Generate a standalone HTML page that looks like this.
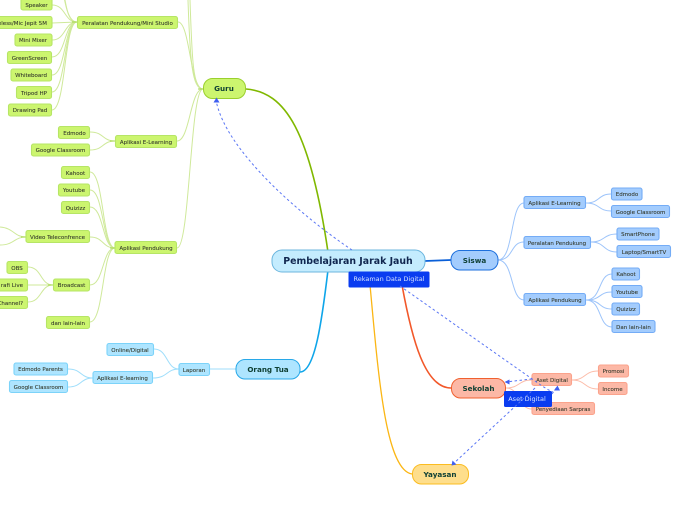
<!DOCTYPE html>
<html><head><meta charset="utf-8">
<style>
html,body{margin:0;padding:0;background:#fff}
body{width:696px;height:520px;overflow:hidden;position:relative}
svg{position:absolute;left:0;top:0}
text{font-family:"DejaVu Sans",sans-serif}
.s{font-size:5.5px;fill:#33382a;stroke:#33382a;stroke-width:.08;text-anchor:middle}
.g rect{fill:#ccf56f;stroke:#b6e566;stroke-width:1.1}
.b rect{fill:#a3ccfd;stroke:#74acf6;stroke-width:1.1}
.c rect{fill:#aee5ff;stroke:#7cd3f9;stroke-width:1.1}
.r rect{fill:#fcb8a6;stroke:#fba38c;stroke-width:1.1}
.m{font-size:7.2px;font-weight:bold;fill:#0f4034;text-anchor:middle}
</style></head><body>
<svg width="696" height="520" viewBox="0 0 696 520" fill="none">
<!-- main connectors -->
<path d="M246 89C285 92 310 130 328 252" stroke="#80b800" stroke-width="1.6"/>
<path d="M328 270C322 320 315 372 300 372" stroke="#0ea5e9" stroke-width="1.6"/>
<path d="M425 261L451 260" stroke="#0a5fd8" stroke-width="1.8"/>
<path d="M402 285C412 340 425 388 451 388" stroke="#f2582a" stroke-width="1.6"/>
<path d="M370 285C378 370 385 470 412 474" stroke="#fbb614" stroke-width="1.3"/>
<!-- green connectors -->
<g stroke="#cfe99a" stroke-width="1">
<path d="M203 89C192 89 190 60 188 0"/>
<path d="M203 89C193 89 192 60 190 0"/>
<path d="M203 89C190 89 190 22 178 22"/>
<path d="M203 89C190 89 190 141 177 141"/>
<path d="M203 89C190 89 190 248 177 248"/>
<path d="M77 22C66 22 66 0 62 -15"/>
<path d="M77 22C66 22 64 -5 60 -25"/>
<path d="M77 22C64 22 66 5 52 5"/>
<path d="M77 22L52 23"/>
<path d="M77 22C64 22 66 40 52 40"/>
<path d="M77 22C64 22 66 57 52 57"/>
<path d="M77 22C64 22 66 75 52 75"/>
<path d="M77 22C64 22 66 92 52 92"/>
<path d="M77 22C64 22 66 110 52 110"/>
<path d="M115 141C102 141 104 132 90 132"/>
<path d="M115 141C102 141 104 150 90 150"/>
<path d="M115 248C102 248 104 172 90 172"/>
<path d="M115 248C102 248 104 190 90 190"/>
<path d="M115 248C102 248 104 207 90 207"/>
<path d="M115 248C102 248 104 237 90 237"/>
<path d="M115 248C102 248 104 285 90 285"/>
<path d="M115 248C102 248 104 322 90 322"/>
<path d="M53 285C40 285 42 267 28 267"/>
<path d="M53 285L28 285"/>
<path d="M53 285C40 285 42 302 28 302"/>
<path d="M26 237C14 237 14 228 0 227"/>
<path d="M26 237C14 237 14 245 0 245"/>
</g>
<path d="M198 89H203M72 22H77M110 141H115M110 248H115M48 285H53M21 237H26" stroke="#a6d84f" stroke-width="1"/>
<!-- light blue connectors -->
<g stroke="#9fdefb" stroke-width="1">
<path d="M236 369H210"/>
<path d="M179 369C166 369 168 349 154 349"/>
<path d="M179 369C166 369 168 378 153 378"/>
<path d="M93 378C80 378 82 369 68 369"/>
<path d="M93 378C80 378 82 387 68 387"/>
</g>
<!-- blue connectors -->
<g stroke="#9dc4fa" stroke-width="1">
<path d="M498 260C514 260 510 203 524 203"/>
<path d="M498 260C514 260 510 242 524 242"/>
<path d="M498 260C514 260 510 300 524 300"/>
<path d="M586 203C600 203 598 194 611 194"/>
<path d="M586 203C600 203 598 211 611 211"/>
<path d="M591 242C605 242 603 234 617 234"/>
<path d="M591 242C605 242 603 252 617 252"/>
<path d="M586 300C602 300 598 274 612 274"/>
<path d="M586 300C602 300 598 292 612 292"/>
<path d="M586 300C602 300 598 309 612 309"/>
<path d="M586 300C602 300 598 327 612 327"/>
</g>
<!-- red connectors -->
<g stroke="#fcbca9" stroke-width="1">
<path d="M506 388C520 388 518 380 532 380"/>
<path d="M506 388C520 388 518 409 532 409"/>
<path d="M572 380C586 380 584 371 598 371"/>
<path d="M572 380C586 380 584 389 598 389"/>
</g>
<!-- centre & main nodes -->
<rect x="272" y="250" width="153" height="22" rx="10" fill="#c4ecfe" stroke="#6cb6de" stroke-width="1"/>
<text x="348" y="264" font-size="9.400" font-weight="bold" fill="#10264f" text-anchor="middle">Pembelajaran Jarak Jauh</text>
<rect x="348.500" y="271.500" width="81" height="16" rx="1.500" fill="#0a3cf0"/>
<text x="389" y="281" font-size="6.500" fill="#d6e2ff" text-anchor="middle">Rekaman Data Digital</text>
<rect x="203.500" y="78.500" width="42" height="20" rx="9" fill="#ccf56f" stroke="#9ad02d" stroke-width="1"/>
<text class="m" x="224" y="91">Guru</text>
<rect x="236" y="359.500" width="64" height="19.500" rx="9" fill="#aee5ff" stroke="#28a8e8" stroke-width="1"/>
<text class="m" x="268" y="372">Orang Tua</text>
<rect x="451" y="250.500" width="47" height="19.500" rx="9" fill="#a3ccfd" stroke="#1d6fdc" stroke-width="1"/>
<text class="m" x="474.500" y="263">Siswa</text>
<rect x="451.500" y="378.500" width="54" height="19.500" rx="9" fill="#fcb8a6" stroke="#f0602f" stroke-width="1"/>
<text class="m" x="478.500" y="391">Sekolah</text>
<rect x="412.500" y="464.500" width="56" height="19.500" rx="9" fill="#fede8c" stroke="#fbbc20" stroke-width="1"/>
<text class="m" x="440" y="477">Yayasan</text>
<!-- green nodes -->
<g class="g">
<rect x="21" y="-2" width="31" height="12" rx="2"/><text class="s" x="36.500" y="7">Speaker</text>
<rect x="-10" y="16.500" width="62" height="12" rx="2"/><text class="s" x="47" y="25" style="text-anchor:end">Wireless/Mic Jepit 5M</text>
<rect x="15" y="34" width="37" height="12" rx="2"/><text class="s" x="33" y="42">Mini Mixer</text>
<rect x="7.500" y="51.500" width="44" height="12" rx="2"/><text class="s" x="29.500" y="60">GreenScreen</text>
<rect x="11" y="69" width="40.500" height="12" rx="2"/><text class="s" x="31" y="77">Whiteboard</text>
<rect x="16.500" y="86.500" width="35" height="12" rx="2"/><text class="s" x="34" y="95">Tripod HP</text>
<rect x="8.500" y="104" width="43" height="12" rx="2"/><text class="s" x="30" y="112">Drawing Pad</text>
<rect x="77.500" y="16.500" width="100" height="12" rx="2"/><text class="s" x="127.500" y="25">Peralatan Pendukung/Mini Studio</text>
<rect x="58.500" y="126.500" width="31" height="12" rx="2"/><text class="s" x="74.500" y="135">Edmodo</text>
<rect x="31.500" y="144" width="58" height="12" rx="2"/><text class="s" x="60.500" y="152">Google Classroom</text>
<rect x="115.500" y="135.500" width="61" height="12" rx="2"/><text class="s" x="146" y="144">Aplikasi E-Learning</text>
<rect x="61.500" y="166.500" width="28" height="12" rx="2"/><text class="s" x="75.500" y="175">Kahoot</text>
<rect x="58.500" y="184" width="31" height="12" rx="2"/><text class="s" x="74" y="192">Youtube</text>
<rect x="61.500" y="201.500" width="28" height="12" rx="2"/><text class="s" x="75.500" y="210">Quizizz</text>
<rect x="26" y="230.500" width="63.500" height="12" rx="2"/><text class="s" x="57.500" y="239">Video Teleconfrence</text>
<rect x="115" y="241.500" width="61.500" height="12" rx="2"/><text class="s" x="146" y="250">Aplikasi Pendukung</text>
<rect x="7" y="261.500" width="20.500" height="12" rx="2"/><text class="s" x="17" y="270">OBS</text>
<rect x="-10" y="279" width="37.500" height="12" rx="2"/><text class="s" x="23" y="287" style="text-anchor:end">rafi Live</text>
<rect x="-10" y="296.500" width="37.500" height="12" rx="2"/><text class="s" x="23" y="305" style="text-anchor:end">Channel?</text>
<rect x="53.500" y="279" width="36" height="12" rx="2"/><text class="s" x="71.500" y="287">Broadcast</text>
<rect x="46.500" y="316.500" width="43" height="12" rx="2"/><text class="s" x="68" y="325">dan lain-lain</text>
</g>
<!-- light blue nodes -->
<g class="c">
<rect x="107" y="343.500" width="46.500" height="12" rx="2"/><text class="s" x="130" y="352">Online/Digital</text>
<rect x="179" y="363.500" width="30.500" height="12" rx="2"/><text class="s" x="194" y="372">Laporan</text>
<rect x="93" y="371.500" width="59.500" height="12" rx="2"/><text class="s" x="122.500" y="380">Aplikasi E-learning</text>
<rect x="14" y="363" width="53.500" height="12" rx="2"/><text class="s" x="40.500" y="371">Edmodo Parents</text>
<rect x="9.500" y="380.500" width="58" height="12" rx="2"/><text class="s" x="38.500" y="389">Google Classroom</text>
</g>
<!-- blue nodes -->
<g class="b">
<rect x="524" y="196.500" width="61.500" height="12" rx="2"/><text class="s" x="554.500" y="205">Aplikasi E-Learning</text>
<rect x="611.500" y="188" width="30.500" height="12" rx="2"/><text class="s" x="627" y="196">Edmodo</text>
<rect x="611.500" y="205.500" width="58" height="12" rx="2"/><text class="s" x="640.500" y="214">Google Classroom</text>
<rect x="524" y="236.500" width="66.500" height="12" rx="2"/><text class="s" x="557" y="245">Peralatan Pendukung</text>
<rect x="617" y="228" width="42" height="12" rx="2"/><text class="s" x="638" y="236">SmartPhone</text>
<rect x="617" y="245.500" width="53.500" height="12" rx="2"/><text class="s" x="644" y="254">Laptop/SmartTV</text>
<rect x="524" y="293.500" width="61.500" height="12" rx="2"/><text class="s" x="555" y="302">Aplikasi Pendukung</text>
<rect x="612" y="268" width="27.500" height="12" rx="2"/><text class="s" x="626" y="276">Kahoot</text>
<rect x="612" y="285.500" width="30" height="12" rx="2"/><text class="s" x="627" y="294">Youtube</text>
<rect x="612" y="303" width="27.500" height="12" rx="2"/><text class="s" x="626" y="311">Quizizz</text>
<rect x="612" y="320.500" width="43" height="12" rx="2"/><text class="s" x="633.500" y="329">Dan lain-lain</text>
</g>
<!-- red nodes -->
<g class="r">
<rect x="532" y="373.500" width="39.500" height="12" rx="2"/><text class="s" x="552" y="382">Aset Digital</text>
<rect x="598.500" y="365" width="30" height="12" rx="2"/><text class="s" x="613.500" y="373">Promosi</text>
<rect x="598.500" y="382.500" width="28.500" height="12" rx="2"/><text class="s" x="612.500" y="391">Income</text>
<rect x="532" y="402.500" width="62.500" height="12" rx="2"/><text class="s" x="563" y="411">Penyediaan Sarpras</text>
</g>
<rect x="504" y="391" width="48" height="16" rx="1.500" fill="#0a3cf0"/>
<text x="527" y="401" font-size="6.500" fill="#d6e2ff" text-anchor="middle">Aset Digital</text>
<!-- dashed relationships -->
<g stroke="#5a76f4" stroke-width="1" stroke-dasharray="2.500 2.500">
<path d="M352 250C300 215 225 150 216 100"/>
<path d="M400 286L535 381C542 386 548 390 553 392"/>
<path d="M532 379C522 380 514 381 507 382"/>
<path d="M535 388L453 464"/>
<path d="M552 394L557 387"/>
</g>
<g fill="#3f5ff0">
<path d="M216.500 97.500L213.500 102.500L219.500 102.500Z"/>
<path d="M504.500 382L509.500 379.500L509.500 384.500Z"/>
<path d="M557.500 385.500L554 390.500L560 390.500Z"/>
<path d="M451.500 465.500L452.500 460.500L456.500 464.500Z"/>
</g>
</svg>
</body></html>
